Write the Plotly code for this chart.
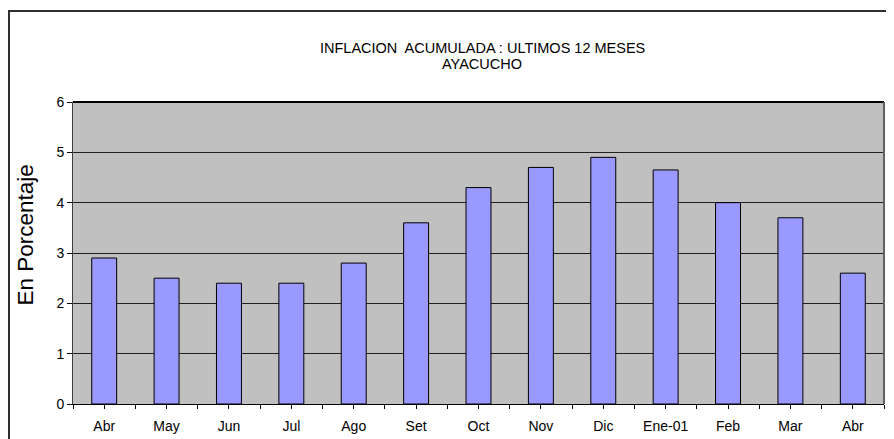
import plotly.graph_objects as go

months = ["Abr", "May", "Jun", "Jul", "Ago", "Set", "Oct", "Nov", "Dic", "Ene-01", "Feb", "Mar", "Abr"]
inflacion = [2.9, 2.5, 2.4, 2.4, 2.8, 3.6, 4.3, 4.7, 4.9, 4.65, 4.0, 3.7, 2.6]
y_ticks = [0, 1, 2, 3, 4, 5, 6]
title_lines = ["INFLACION  ACUMULADA : ULTIMOS 12 MESES", "AYACUCHO"]

pos = list(range(len(months)))

# the page body adds an 8px offset; size the figure to fit the window
OFF = 8
W, H = 894 - OFF, 439 - OFF
ml, mr, mt, mb = 73 - OFF, W - (884 - OFF), 102 - OFF, H - (404 - OFF)
pw, ph = W - ml - mr, H - mt - mb


def px_x(x):
    return (x - 73) / pw


def px_y(y):
    return 1 - (y - 102) / ph


fig = go.Figure()
fig.add_trace(go.Bar(
    x=pos, y=inflacion, width=0.4,
    marker=dict(color="#9999FF", line=dict(color="black", width=1)),
    hoverinfo="y",
))

fig.update_layout(
    width=W, height=H,
    margin=dict(l=ml, r=mr, t=mt, b=mb, autoexpand=False),
    paper_bgcolor="white",
    plot_bgcolor="#C0C0C0",
    font=dict(family="Liberation Sans, Arial, sans-serif", color="black", size=14),
    showlegend=False,
    bargap=0.6,
)

# two-line title
for line, yc in zip(title_lines, [47.5, 64.5]):
    fig.add_annotation(text=line, showarrow=False, xref="paper", yref="paper",
                       x=px_x(482.5), y=px_y(yc), xanchor="center", yanchor="middle",
                       font=dict(size=14.5))

fig.update_xaxes(
    range=[-0.5, len(months) - 0.5],
    tickvals=pos, ticktext=months,
    ticks="outside", ticklen=4, tickcolor="black", tickwidth=1,
    minor=dict(tickvals=[p - 0.5 for p in pos] + [len(months) - 0.5], ticks="outside", ticklen=4, tickcolor="black"),
    ticklabelstandoff=5,
    showline=True, linecolor="black", linewidth=1,
    showgrid=False, zeroline=False,
    tickfont=dict(size=14),
    fixedrange=True,
)
fig.update_yaxes(
    range=[0, 6], tickvals=y_ticks,
    ticks="outside", ticklen=5, tickcolor="black",
    showline=True, linecolor="#404040", linewidth=1,
    showgrid=True, gridcolor="#202020", gridwidth=1,
    zeroline=False,
    tickfont=dict(size=14),
    fixedrange=True,
)

# y-axis title
fig.add_annotation(text="En Porcentaje", textangle=-90, showarrow=False,
                   xref="paper", yref="paper",
                   x=px_x(25), y=px_y(235.5),
                   xanchor="center", yanchor="middle",
                   font=dict(size=22.5))

# top border of plot area and right border
fig.add_shape(type="line", xref="paper", yref="paper", x0=0, x1=1, y0=1, y1=1,
              line=dict(color="black", width=2))
fig.add_shape(type="line", xref="paper", yref="paper", x0=1, x1=1, y0=0, y1=1,
              line=dict(color="#606060", width=2))

# outer chart border
fig.add_shape(type="rect", xref="paper", yref="paper",
              x0=px_x(9), x1=px_x(920),
              y0=px_y(460), y1=px_y(11),
              line=dict(color="#303030", width=2), layer="above")

fig.write_html("out.html")
